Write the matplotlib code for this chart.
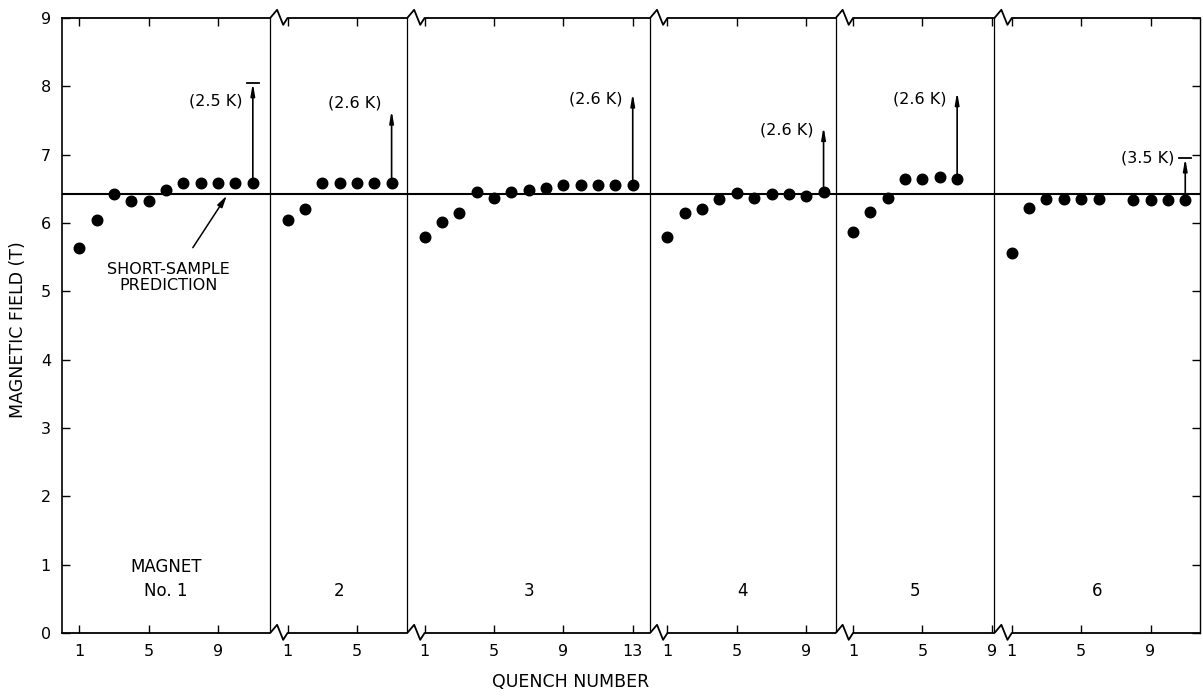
import numpy as np
import matplotlib
matplotlib.use("Agg")
import matplotlib.pyplot as plt

plt.rcParams['font.family'] = ['DejaVu Sans']

# quench fields (T) for each magnet, one value per quench (nan = no point drawn)
magnet_names = ["MAGNET\nNo. 1", "2", "3", "4", "5", "6"]
field_m1 = [5.64, 6.04, 6.43, 6.32, 6.32, 6.49, 6.59, 6.59, 6.59, 6.59, 6.59]
field_m2 = [6.04, 6.21, 6.59, 6.59, 6.59, 6.59, 6.59]
field_m3 = [5.80, 6.02, 6.14, 6.45, 6.36, 6.46, 6.49, 6.51, 6.56, 6.56, 6.56, 6.56, 6.56]
field_m4 = [5.80, 6.14, 6.21, 6.35, 6.44, 6.37, 6.43, 6.43, 6.39, 6.45]
field_m5 = [5.87, 6.16, 6.37, 6.65, 6.65, 6.68, 6.65]
field_m6 = [5.56, 6.22, 6.35, 6.35, 6.35, 6.35, np.nan, 6.34, 6.34, 6.34, 6.34]
fields = [field_m1, field_m2, field_m3, field_m4, field_m5, field_m6]

# field reached at lower temperature (arrow on the last quench)
temp_labels = ["(2.5 K)", "(2.6 K)", "(2.6 K)", "(2.6 K)", "(2.6 K)", "(3.5 K)"]
temp_fields = [8.05, 7.65, 7.90, 7.41, 7.92, 6.95]
temp_bar = [True, False, False, False, False, True]

short_sample = 6.43
quench_ticks = [1, 5, 9, 13]
y_ticks = list(range(10))

# layout: where each magnet's block starts on the shared axis (in quench slots)
panel_start = [0, 12, 19.9, 33.9, 44.6, 53.75]
x_end = 65.6
label_y = [7.79, 7.75, 7.82, 7.36, 7.81, 6.95]

fig = plt.figure(figsize=(12.03, 6.96), dpi=100)
ax = fig.add_axes([62 / 1203, 1 - 633 / 696, 1138 / 1203, 615 / 696])
ax.set_xlim(0, x_end)
ax.set_ylim(0, 9)

ends = panel_start[1:] + [x_end]
xt, xl = [], []
for i, vals in enumerate(fields):
    s = panel_start[i]
    q = np.arange(1, len(vals) + 1)
    ax.plot(s + q, vals, 'o', color='black', ms=7.6, zorder=4, clip_on=False)

    # panel name
    ax.text((s + ends[i]) / 2, 0.49, magnet_names[i], ha='center', va='bottom',
            fontsize=12, linespacing=1.4)

    # temperature arrow from last quench
    xa = s + len(vals)
    ax.annotate('', xy=(xa, temp_fields[i]), xytext=(xa, vals[-1]),
                arrowprops=dict(arrowstyle='-|>,head_width=0.12,head_length=0.7',
                                color='black', lw=1.2, shrinkA=3, shrinkB=0))
    if temp_bar[i]:
        ax.plot([xa - 0.35, xa + 0.35], [temp_fields[i]] * 2, color='black', lw=1.3)
    ax.text(xa - 0.6, label_y[i], temp_labels[i], ha='right', va='center', fontsize=11.5)

    for t in quench_ticks:
        if s + t <= ends[i] + 0.1:
            xt.append(s + t)
            xl.append(str(t))

# panel separators
for d in panel_start[1:]:
    ax.plot([d, d], [0, 9], color='black', lw=0.9, zorder=2)

# short-sample line
ax.axhline(short_sample, color='black', lw=1.5, zorder=3)
ax.annotate("SHORT-SAMPLE\nPREDICTION", xy=(9.5, short_sample - 0.03), xytext=(6.15, 5.2),
            ha='center', va='center', fontsize=11.5, linespacing=1.1,
            arrowprops=dict(arrowstyle='-|>,head_width=0.15,head_length=0.6',
                            color='black', lw=1.1, shrinkA=10, shrinkB=0,
                            relpos=(0.62, 1.0)))

# top and bottom frame with break marks at every separator
zx = [0.0, 0.4, 0.75, 1.0]
zy = [0.0, 0.12, -0.1, 0.0]
for yb in (0, 9):
    px, py = [0], [yb]
    for d in panel_start[1:]:
        px += [d + z for z in zx]
        py += [yb + z for z in zy]
    px.append(x_end)
    py.append(yb)
    ax.plot(px, py, color='black', lw=1.3, clip_on=False, zorder=5)

ax.spines['top'].set_visible(False)
ax.spines['bottom'].set_visible(False)
ax.spines['left'].set_linewidth(1.2)
ax.spines['right'].set_linewidth(1.0)

ax.set_xticks(xt)
ax.set_xticklabels(xl)
ax.set_yticks(y_ticks)
ax.tick_params(axis='both', direction='in', length=6, width=1.0, labelsize=11.5)
ax.tick_params(axis='x', top=True, pad=8)
ax.tick_params(axis='y', right=True, pad=8)

fig.text(18 / 1203, 1 - 330 / 696, "MAGNETIC FIELD (T)", rotation=90,
         ha='center', va='center', fontsize=12.5)
fig.text(571 / 1203, 1 - 682 / 696, "QUENCH NUMBER", ha='center', va='center',
         fontsize=12.5)

fig.savefig("out.png", dpi=100)
